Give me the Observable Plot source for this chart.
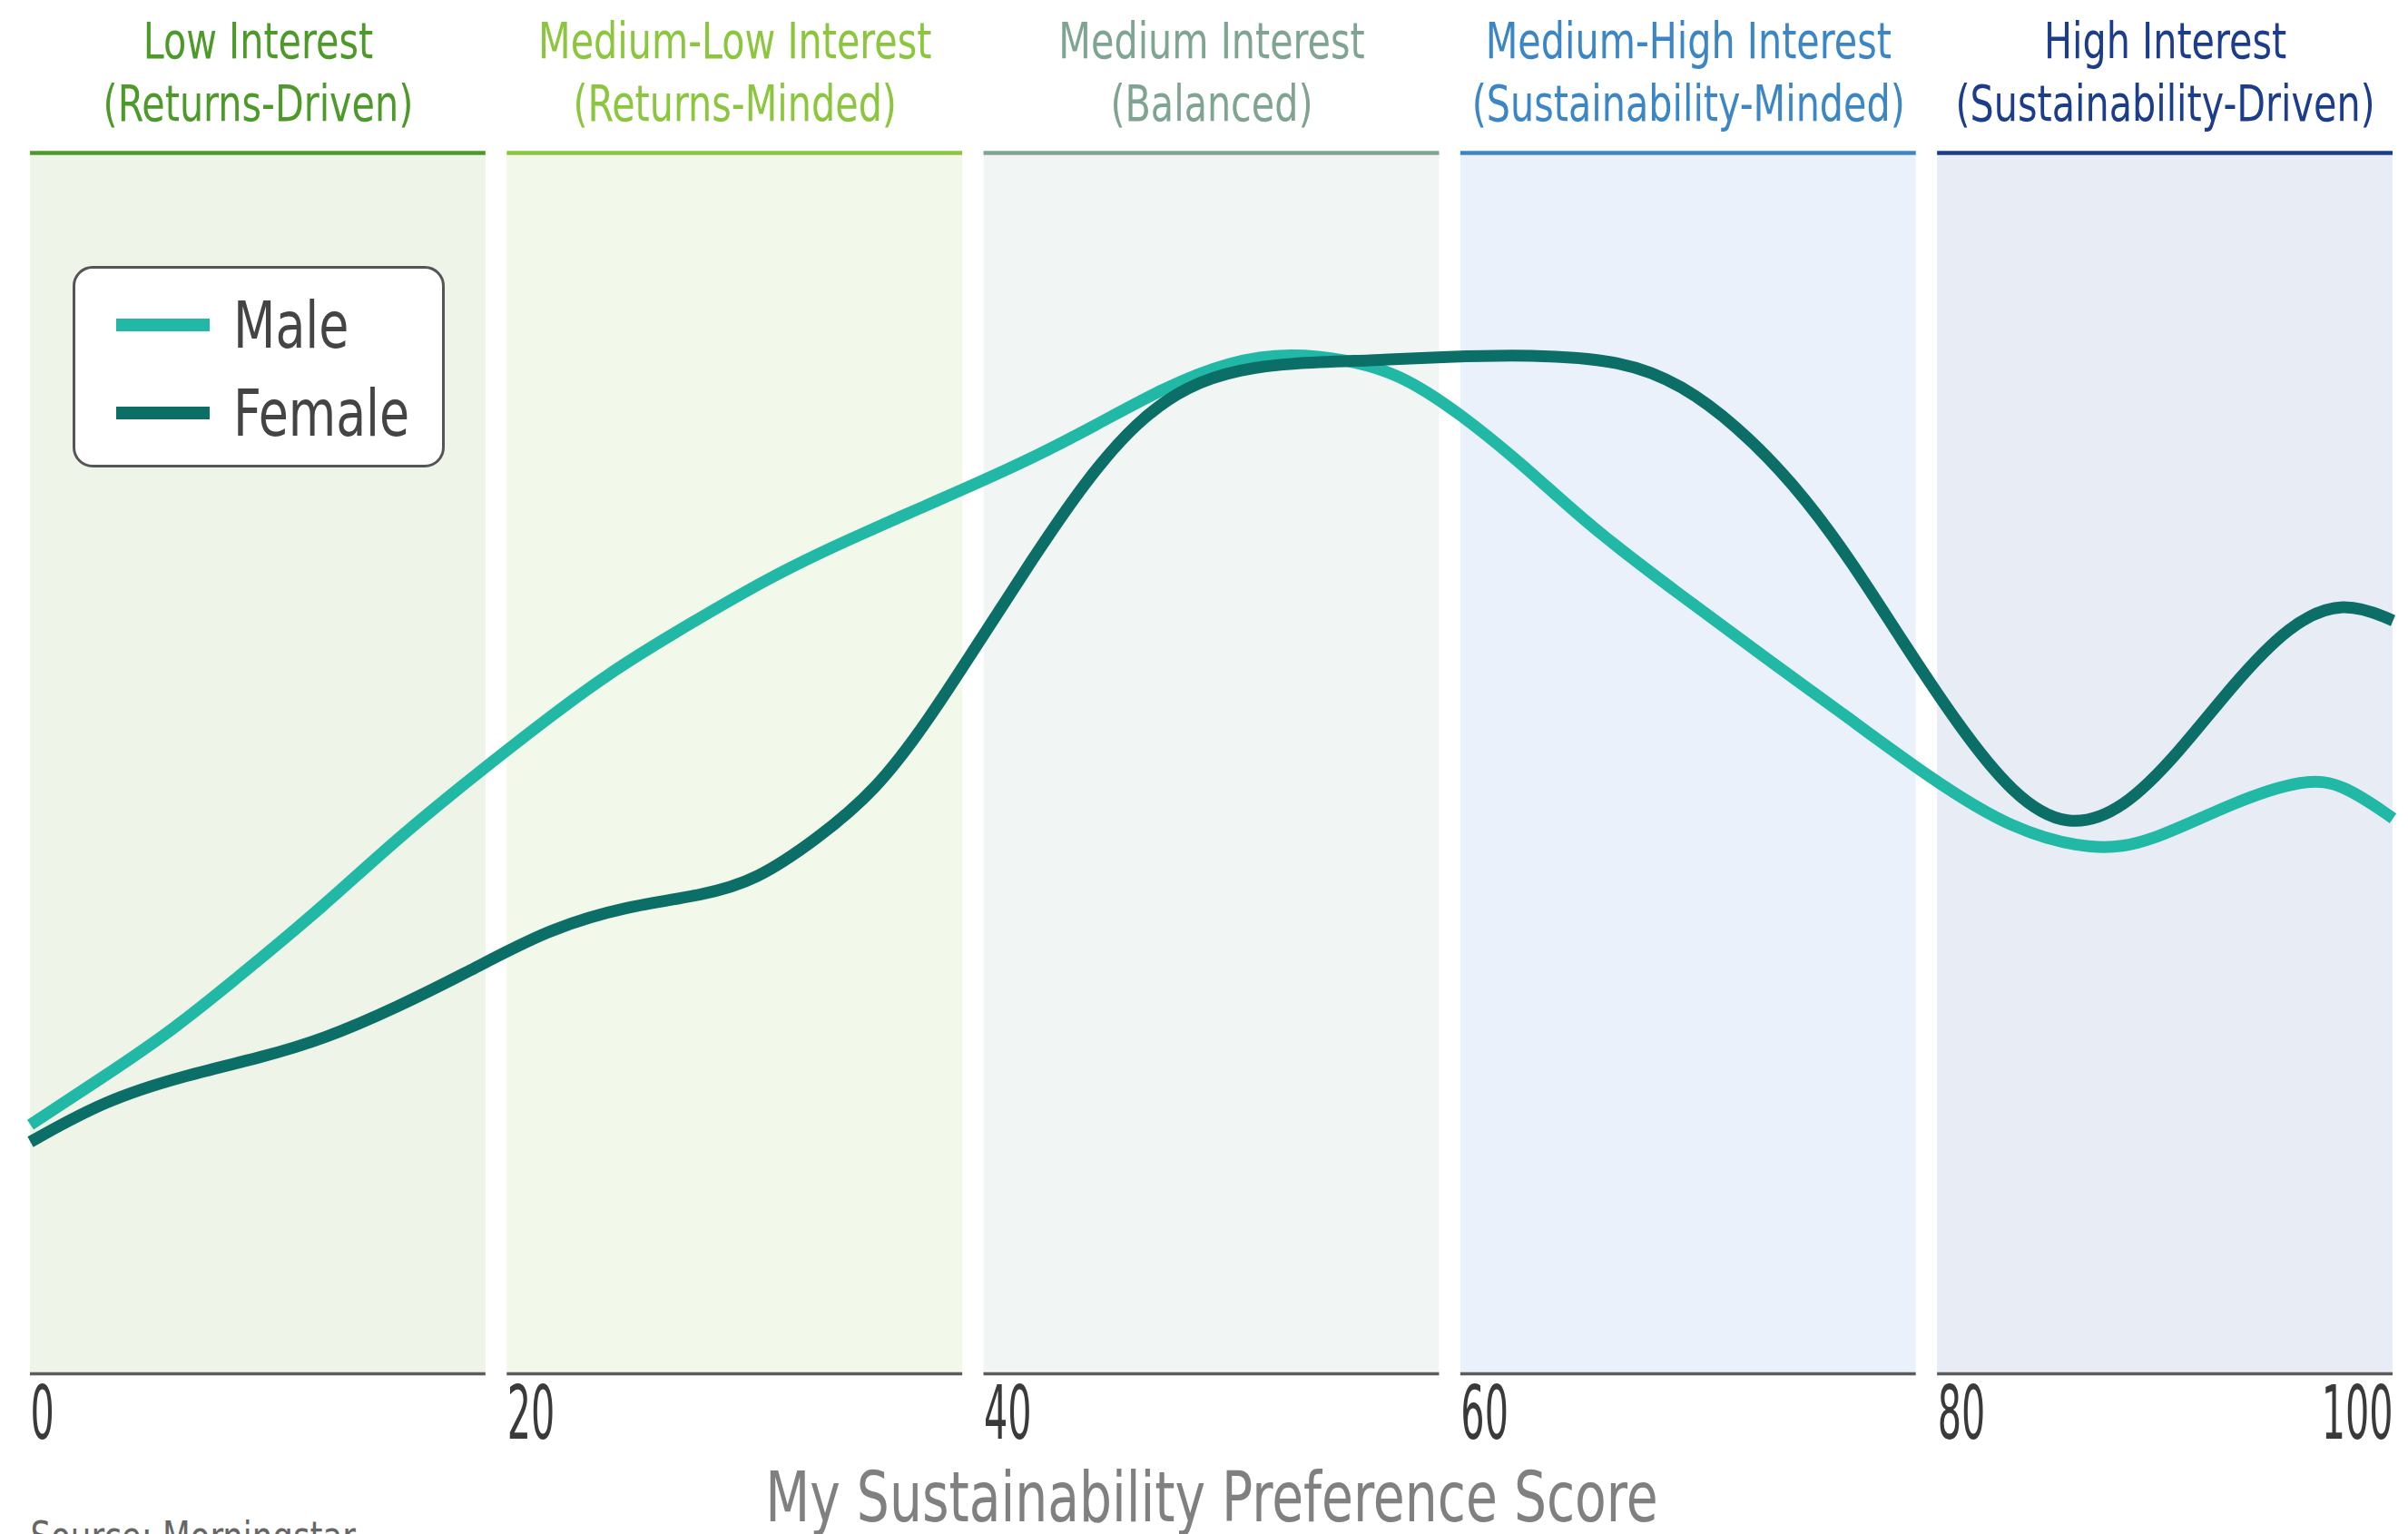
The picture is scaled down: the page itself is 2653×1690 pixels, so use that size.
<!DOCTYPE html>
<html><head><meta charset="utf-8">
<script src="https://cdn.jsdelivr.net/npm/d3@7"></script>
<script src="https://cdn.jsdelivr.net/npm/@observablehq/plot@0.6"></script>
<style>
html,body{margin:0;padding:0;background:#fff;overflow:hidden;}
#wrap{position:relative;width:2653px;height:1690px;font-family:"Liberation Sans Narrow","Arial Narrow","DejaVu Sans Condensed",sans-serif;}
#legend{position:absolute;left:80px;top:293px;width:410px;height:222px;border:3px solid #555;border-radius:22px;background:#fff;box-sizing:border-box;}
.item{position:absolute;left:0;height:80px;display:flex;align-items:center;}
.sw{width:103px;height:14px;margin-left:45px;flex:none;}
.lab{font-size:72px;color:#444;margin-left:26px;line-height:80px;transform:scaleX(0.83);transform-origin:left center;white-space:nowrap;}
</style></head><body><div id="wrap"></div>
<script>
// ---- data ----
const bandTitles = ["Low Interest", "Medium-Low Interest", "Medium Interest", "Medium-High Interest", "High Interest"];
const bandSubtitles = ["(Returns-Driven)", "(Returns-Minded)", "(Balanced)", "(Sustainability-Minded)", "(Sustainability-Driven)"];
const bandStarts = [0, 20, 40, 60, 80];
const tickValues = [0, 20, 40, 60, 80, 100];
const seriesNames = ["Male", "Female"];

const maleScore = [0, 3.15, 6.0, 9.3, 12.4, 15.5, 18.6, 21.9, 24.5, 27.0, 31.4, 34.7, 38.6, 42.0, 45.1, 47.9, 50.8, 53.4, 55.6, 57.9, 60.5, 63.4, 66.0, 69.9, 73.4, 76.9, 80.4, 83.9, 87.4, 89.7, 93.2, 96.3, 97.9, 100];
const maleValue = [20.4, 24.4, 28.1, 33.3, 38.3, 43.8, 48.7, 53.7, 57.4, 60.4, 65.4, 68.4, 71.7, 74.6, 77.7, 80.7, 83.0, 83.6, 83.1, 82.0, 78.7, 74.1, 69.4, 63.7, 58.7, 53.8, 48.8, 44.5, 42.8, 43.5, 46.8, 48.8, 48.3, 45.5];

const femaleScore = [0, 3.15, 6.45, 9.76, 12.4, 15.5, 18.6, 21.9, 25.2, 28.5, 30.7, 33.3, 35.8, 38.0, 40.2, 42.4, 44.6, 46.8, 49.0, 51.2, 53.4, 56.7, 60.0, 63.4, 67.5, 69.9, 72.2, 74.6, 76.9, 79.2, 81.6, 83.9, 86.2, 88.6, 90.9, 93.2, 95.6, 97.9, 100];
const femaleValue = [19.0, 22.4, 24.4, 25.9, 27.4, 30.0, 33.0, 36.4, 38.3, 39.2, 40.4, 43.8, 47.8, 53.5, 60.1, 66.7, 73.0, 78.0, 81.0, 82.3, 82.8, 83.0, 83.3, 83.5, 83.0, 81.0, 77.7, 73.0, 67.1, 60.1, 53.1, 47.4, 44.6, 46.2, 50.8, 56.4, 61.4, 63.4, 61.7];

const axisTitle = "My Sustainability Preference Score";
const sourceText = "Source: Morningstar";

// ---- styles ----
const FONT = '"Liberation Sans Narrow","Arial Narrow","DejaVu Sans Condensed",sans-serif';
const bandColors = ["#4d9a2a", "#8cc63e", "#7fa592", "#3c86c6", "#1c3c8c"];
const bandFills = ["#eef4e7", "#f2f8ea", "#f1f5f3", "#ebf1fa", "#e8ecf5"];
const seriesColors = ["#22b8a6", "#0b6e67"];

// ---- build ----
const GAP = 0.9;
const PERIOD = (100 + GAP) / bandStarts.length;
const bands = bandStarts.map((s, i) => ({
  x1: i * PERIOD, x2: i * PERIOD + PERIOD - GAP,
  label: bandTitles[i] + "\n" + bandSubtitles[i],
  color: bandColors[i], fill: bandFills[i]
}));
const ticks = tickValues.map((v, i) => ({
  x: i < bands.length ? bands[i].x1 : 100, label: String(v), last: i === tickValues.length - 1
}));
const male = maleScore.map((x, i) => ({x, y: maleValue[i]}));
const female = femaleScore.map((x, i) => ({x, y: femaleValue[i]}));

const chart = Plot.plot({
  width: 2653, height: 1690,
  marginLeft: 33, marginRight: 17, marginTop: 168, marginBottom: 177,
  x: {domain: [0, 100], axis: null},
  y: {domain: [0, 100], axis: null},
  color: {type: "identity"},
  style: {fontFamily: FONT, background: "transparent", overflow: "visible"},
  marks: [
    Plot.rect(bands, {x1: "x1", x2: "x2", y1: 0, y2: 100, fill: "fill"}),
    Plot.ruleY(bands, {y: 100, x1: "x1", x2: "x2", stroke: "color", strokeWidth: 4.5}),
    Plot.ruleY(bands, {y: 0, x1: "x1", x2: "x2", stroke: "#5b5b5b", strokeWidth: 3.5}),
    Plot.line(male, {x: "x", y: "y", stroke: seriesColors[0], strokeWidth: 13, curve: "basis", strokeLinecap: "butt"}),
    Plot.line(female, {x: "x", y: "y", stroke: seriesColors[1], strokeWidth: 13, curve: "basis", strokeLinecap: "butt"}),
    Plot.text(bands, {x: d => (d.x1 + d.x2) / 2, y: 100, text: "label", fill: "color", fontSize: 56, lineAnchor: "bottom", lineHeight: 69 / 56, dy: -36}),
    Plot.text(ticks.filter(d => !d.last), {x: "x", y: 0, text: "label", textAnchor: "start", fontSize: 82, lineAnchor: "bottom", dy: 71, fill: "#3a3a3a"}),
    Plot.text(ticks.filter(d => d.last), {x: "x", y: 0, text: "label", textAnchor: "end", fontSize: 82, lineAnchor: "bottom", dy: 71, fill: "#3a3a3a"}),
    Plot.text([axisTitle], {frameAnchor: "bottom", text: d => d, fontSize: 76, lineAnchor: "bottom", dy: 162, fill: "#808080"}),
    Plot.text([sourceText], {frameAnchor: "bottom-left", text: d => d, fontSize: 46, textAnchor: "start", lineAnchor: "bottom", dy: 195, fill: "#666"})
  ]
});

// condensed look: squeeze each text horizontally around its own anchor
const squeeze = [0.82, 0.56, 0.56, 0.83, 0.86];
d3.select(chart).selectAll('g[aria-label="text"]').each(function (_, gi) {
  const s = squeeze[gi] ?? 1;
  d3.select(this).selectAll("text").each(function () {
    const x = parseFloat(this.getAttribute("x")) || 0;
    const t = this.getAttribute("transform") || "";
    this.setAttribute("transform", `${t} translate(${x},0) scale(${s},1) translate(${-x},0)`);
  });
});

const wrap = document.getElementById("wrap");
wrap.appendChild(chart);

const legend = document.createElement("div");
legend.id = "legend";
seriesNames.forEach((name, i) => {
  const it = document.createElement("div");
  it.className = "item";
  it.style.top = (22 + i * 97) + "px";
  const sw = document.createElement("div");
  sw.className = "sw"; sw.style.background = seriesColors[i];
  const lab = document.createElement("div");
  lab.className = "lab"; lab.textContent = name;
  it.appendChild(sw); it.appendChild(lab);
  legend.appendChild(it);
});
wrap.appendChild(legend);
</script></body></html>
